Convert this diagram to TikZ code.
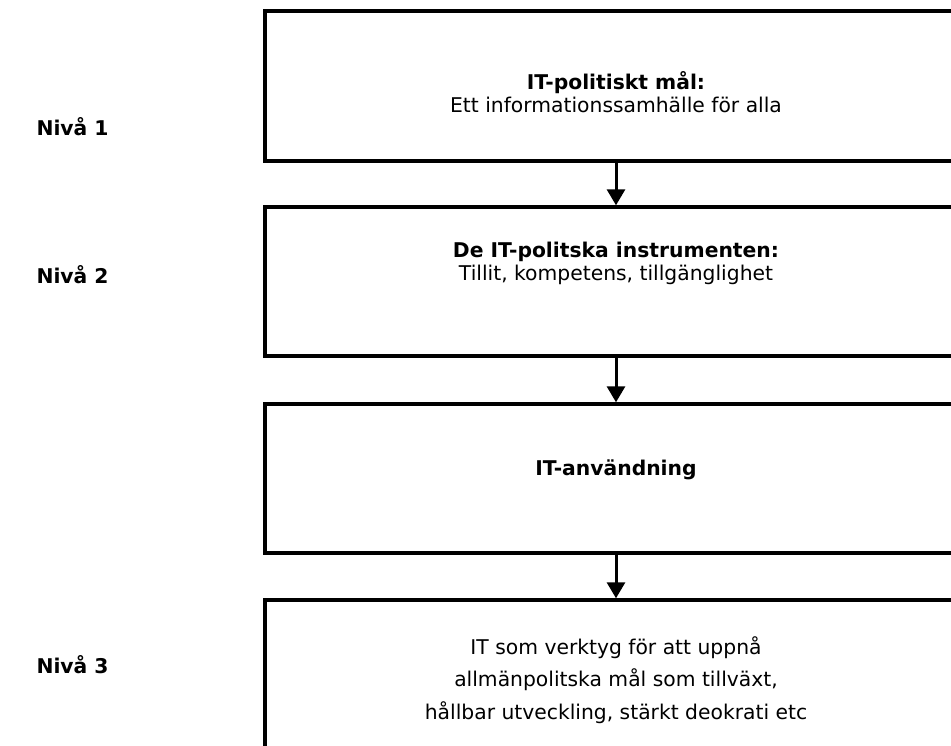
\documentclass[tikz,border=0pt]{standalone}
\usepackage{fontspec}
\setmainfont{DejaVu Sans}
\usetikzlibrary{arrows.meta}

\begin{document}
\begin{tikzpicture}[x=1pt, y=-1pt, >={Triangle[length=16pt, width=18pt]},
    levelbox/.style={draw, line width=3.4pt, minimum width=702pt, minimum height=150pt, inner sep=0pt},
    leveltext/.style={align=center, font=\fontsize{20.3}{23}\selectfont},
    levelname/.style={anchor=west, font=\fontsize{20.3}{23}\selectfont\bfseries}]
        \clip (0, 0) rectangle (951, 745);
        \useasboundingbox (0, 0) rectangle (951, 745);
        % boxes
        \node[levelbox] (B1) at (616, 86) {};
        \node[levelbox, minimum height=149pt] (B2) at (616, 281.5) {};
        \node[levelbox, minimum height=149pt] (B3) at (616, 478.5) {};
        \node[levelbox] (B4) at (616, 675) {};
        % texts
        \node[leveltext] (T1) at (616, 92) {\textbf{IT-politiskt mål:}\\Ett informationssamhälle för alla};
        \node[leveltext] (T2) at (616, 263) {\textbf{De IT-politska instrumenten:}\\Tillit, kompetens, tillgänglighet};
        \node[leveltext, font=\fontsize{20.3}{23}\selectfont\bfseries] (T3) at (616, 470) {IT-användning};
        \node[leveltext, font=\fontsize{20.3}{32.5}\selectfont] (T4) at (616, 680) {IT som verktyg för att uppnå\\allmänpolitska mål som tillväxt,\\hållbar utveckling, stärkt deokrati etc};
        % levels
        \node[levelname] (N1) at (33, 127) {Nivå 1};
        \node[levelname] (N2) at (33, 275) {Nivå 2};
        \node[levelname] (N3) at (33, 665) {Nivå 3};
        % arrows
        \foreach \a/\b in {B1/B2, B2/B3, B3/B4}
            \draw[->, line width=3pt] (\a.south) -- (\b.north);
    \end{tikzpicture}
\end{document}
